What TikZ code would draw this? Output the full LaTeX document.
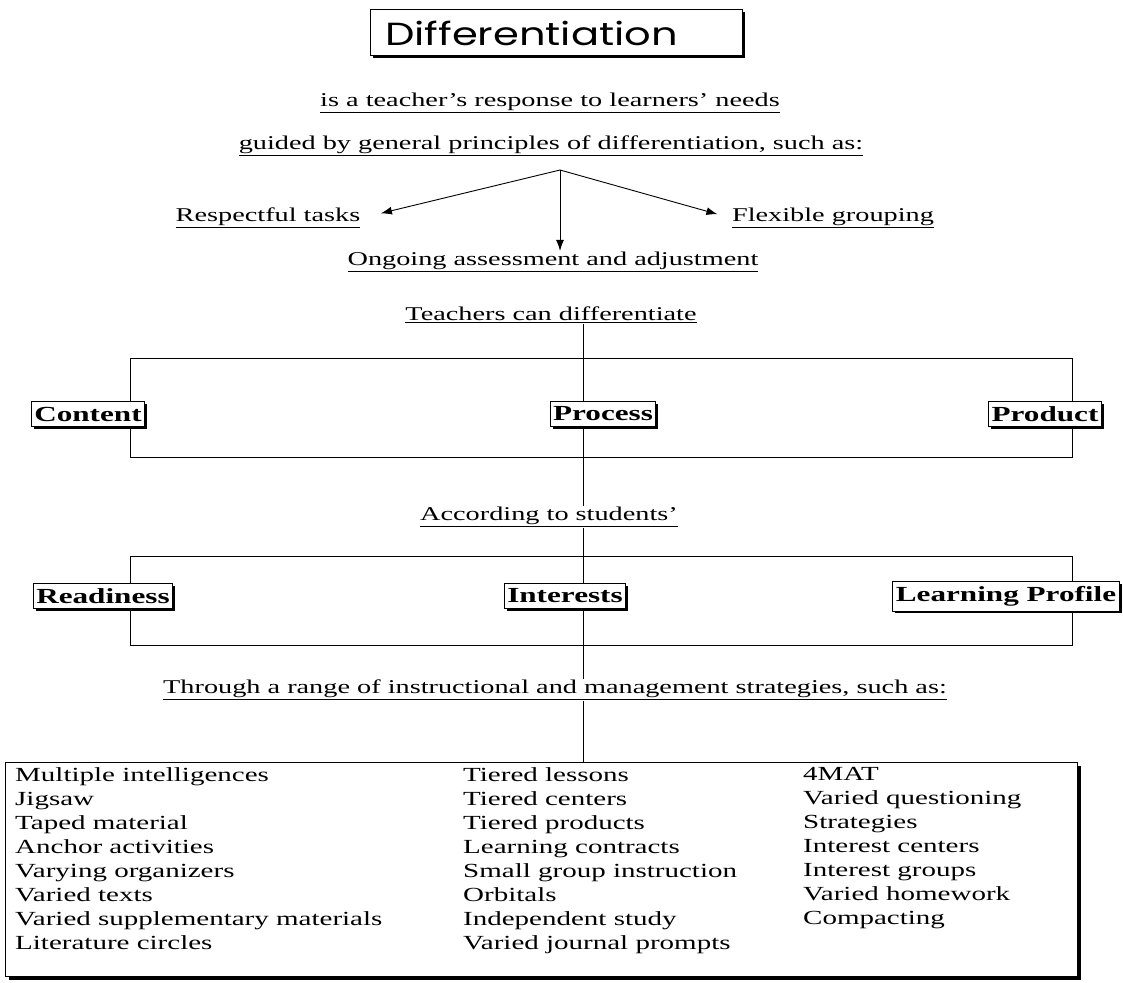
\documentclass[tikz,border=0pt]{standalone}
\usepackage{fontspec}
\setmainfont{Liberation Serif}[FakeStretch=1.45]
\newfontfamily\titlefont{Poppins}[FakeStretch=1.3]
\usetikzlibrary{arrows.meta,calc,positioning,shadows}

\begin{document}
\begin{tikzpicture}[x=1pt,y=-1pt]
	\tikzset{txt/.style={inner sep=1pt,font=\fontsize{19.5}{23}\selectfont}}
	\tikzset{labbox/.style={draw,line width=.9pt,fill=white,inner xsep=3pt,inner ysep=5pt,
	    font=\fontsize{21.5}{23}\selectfont\bfseries,
	    drop shadow={shadow xshift=2.5pt,shadow yshift=-2.5pt,fill=black,opacity=1}}}
	\tikzset{col/.style={anchor=north west,inner sep=0pt,align=left,
	    font=\fontsize{20}{24}\selectfont}}
	\tikzset{tip/.style={-{Latex[length=11pt,width=8pt]},line width=.9pt}}

	\useasboundingbox (0,0) rectangle (1123,982);
	\coordinate (spine) at (583,0);
	\coordinate (fork) at (560,170);

	% title
	\node[draw,line width=1pt,fill=white,minimum height=46pt,text width=342pt,
	    inner xsep=15pt,align=left,font=\titlefont\fontsize{32}{34}\selectfont,
	    drop shadow={shadow xshift=2.5pt,shadow yshift=-2.5pt,fill=black,opacity=1}]
	    (title) at (556,33) {Differentiation};

	% texts
	\node[txt] (resp) at (550,103) {\underline{is a teacher's response to learners' needs}};
	\node[txt] (guide) at (551,146) {\underline{guided by general principles of differentiation, such as:}};
	\node[txt] (respect) at (268,218) {\underline{Respectful tasks}};
	\node[txt] (flex) at (833,218) {\underline{Flexible grouping}};
	\node[txt] (ongo) at (553,262) {\underline{Ongoing assessment and adjustment}};
	\node[txt] (teach) at (551,315) {\underline{Teachers can differentiate}};
	\node[txt] (acc) at (549,517) {\underline{According to students'}};
	\node[txt] (thru) at (555,690) {\underline{Through a range of instructional and management strategies, such as:}};

	% arrows
	\draw[tip,shorten >=20pt] (fork) -- (respect.east);
	\draw[tip,shorten >=14pt] (fork) -- (flex.west);
	\draw[tip] (fork) -- (ongo.north -| fork);

	% brackets and spine
	\draw[line width=.8pt] (130,358) rectangle (1072,457);
	\draw[line width=.8pt] (130,556) rectangle (1072,645);
	\draw[line width=.8pt] (teach.south -| spine) -- (acc.north -| spine);
	\draw[line width=.8pt] (acc.south -| spine) -- (thru.north -| spine);

	% boxes
	\node[labbox] (cont) at (88,414) {Content};
	\node[labbox] (proc) at (603,414) {Process};
	\node[labbox] (prod) at (1045,414) {Product};
	\node[labbox] (ready) at (103,596) {Readiness};
	\node[labbox] (inter) at (565,596) {Interests};
	\node[labbox] (lprof) at (1006,596) {Learning Profile};

	% strategies
	\node[draw,line width=1pt,fill=white,minimum width=1072pt,minimum height=214pt,
	    anchor=north west,
	    drop shadow={shadow xshift=3pt,shadow yshift=-3pt,fill=black,opacity=1}]
	    (strat) at (5,762) {};
	\draw[line width=.8pt] (thru.south -| spine) -- (strat.north -| spine);
	\node[col] (col1) at (15,767) {Multiple intelligences\\Jigsaw\\Taped material\\
	    Anchor activities\\Varying organizers\\Varied texts\\
	    Varied supplementary materials\\Literature circles};
	\node[col] (col2) at (463,767) {Tiered lessons\\Tiered centers\\Tiered products\\
	    Learning contracts\\Small group instruction\\Orbitals\\
	    Independent study\\Varied journal prompts};
	\node[col] (col3) at (803,767) {4MAT\\Varied questioning\\Strategies\\
	    Interest centers\\Interest groups\\Varied homework\\Compacting};
\end{tikzpicture}
\end{document}
